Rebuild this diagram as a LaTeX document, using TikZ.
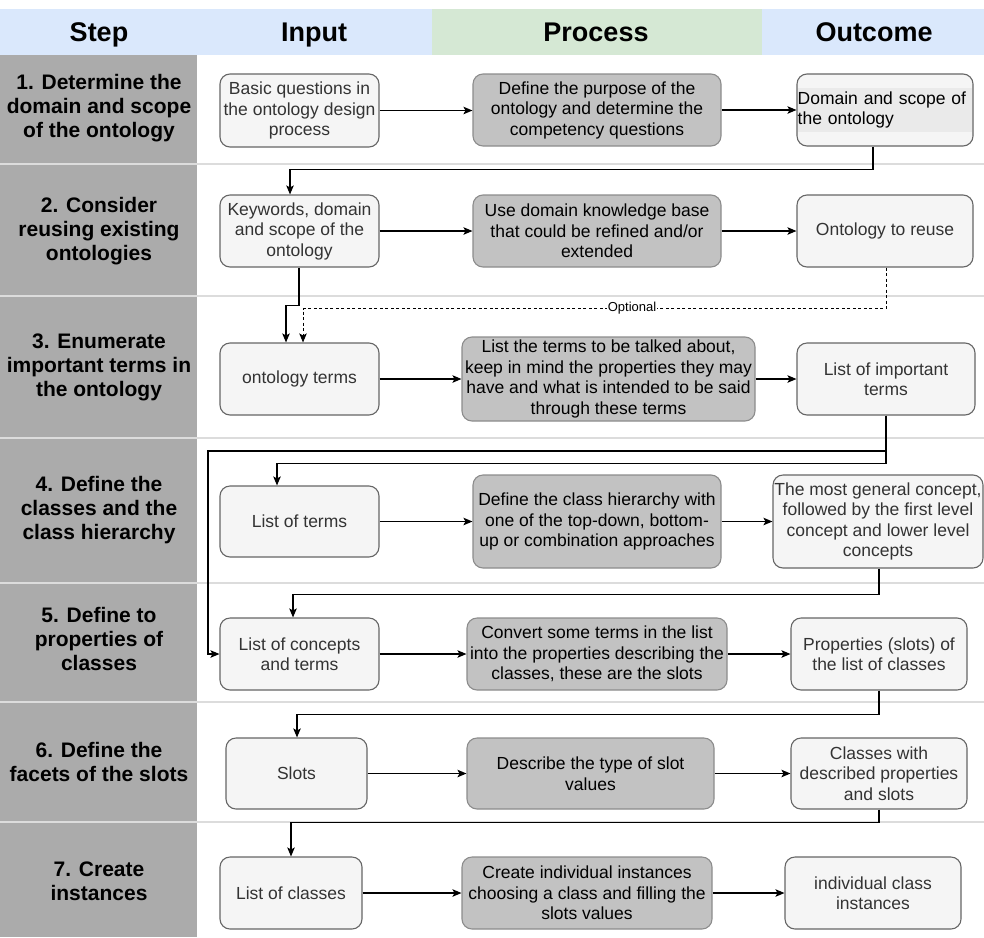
\documentclass[tikz,border=0pt]{standalone}
\usepackage{fontspec}
\setmainfont{Liberation Sans}
\usetikzlibrary{arrows.meta,calc}
\definecolor{hdrblue}{HTML}{DAE8FC}
\definecolor{hdrgreen}{HTML}{D5E8D4}
\definecolor{stepgray}{HTML}{ABABAB}
\definecolor{sepgray}{HTML}{DCDCDC}
\definecolor{boxfill}{HTML}{F5F5F5}
\definecolor{boxline}{HTML}{666666}
\definecolor{boxtext}{HTML}{333333}
\definecolor{procfill}{HTML}{C2C2C2}
\definecolor{procline}{HTML}{8C8C8C}
\definecolor{bandfill}{HTML}{EAEAEA}
\begin{document}
\begin{tikzpicture}[x=1pt,y=-1pt,
  boxfont/.style={font=\fontsize{17.5}{20.5}\selectfont},
  iobox/.style={draw=boxline, fill=boxfill, text=boxtext, rounded corners=10pt, line width=1.1pt, align=center, inner sep=0pt, boxfont},
  procbox/.style={draw=procline, fill=procfill, text=black, rounded corners=10pt, line width=1.1pt, align=center, inner sep=0pt, boxfont},
  hdrtext/.style={font=\bfseries\fontsize{27}{30}\selectfont, text=black, inner sep=0pt, anchor=base},
  steptext/.style={font=\bfseries\fontsize{21}{24}\selectfont, text=black, align=center, inner sep=0pt},
  conn/.style={draw=black, line width=1.2pt, -{Stealth[length=9pt,width=7.5pt,inset=2pt]}},
  optconn/.style={conn, dash pattern=on 3pt off 2.5pt, line width=1pt},
  sepline/.style={draw=sepgray, line width=1.5pt}
]
\useasboundingbox (0,0) rectangle (984,937);
\fill[white] (0,0) rectangle (984,937);
% header
\fill[hdrblue] (0,9) rectangle (432,55);
\fill[hdrgreen] (432,9) rectangle (762,55);
\fill[hdrblue] (762,9) rectangle (984,55);
\node[hdrtext] (hStep) at (99,41.5) {Step};
\node[hdrtext] (hIn) at (314,41.5) {Input};
\node[hdrtext] (hProc) at (596,41.5) {Process};
\node[hdrtext] (hOut) at (874,41.5) {Outcome};
% step column
\fill[stepgray] (0,55) rectangle (197,937);
\foreach \yy in {164,296,438,583,702,822} {\draw[sepline] (0,\yy) -- (984,\yy);}
\node[steptext] (s1) at (99,108.5) {1. Determine the\\domain and scope\\of the ontology};
\node[steptext] (s2) at (99,231) {2. Consider\\reusing existing\\ontologies};
\node[steptext] (s3) at (99,367) {3. Enumerate\\important terms in\\the ontology};
\node[steptext] (s4) at (99,510.5) {4. Define the\\classes and the\\class hierarchy};
\node[steptext] (s5) at (99,639) {5. Define to\\properties of\\classes};
\node[steptext] (s6) at (99,762) {6. Define the\\facets of the slots};
\node[steptext] (s7) at (99,881) {7. Create\\instances};
% row 1
\node[iobox, minimum width=159pt, minimum height=73pt] (I1) at (299.5,110.5) {Basic questions in\\the ontology design\\process};
\node[procbox, minimum width=248pt, minimum height=72pt] (P1) at (597,110) {Define the purpose of the\\ontology and determine the\\competency questions};
\node[iobox, minimum width=176pt, minimum height=72pt] (O1) at (885,110) {};
\node[fill=bandfill, text=black, inner sep=0pt, text width=174pt, minimum height=44pt, align=left, anchor=west, boxfont] (O1t) at ([xshift=1pt]O1.west) {Domain and scope of\\the ontology};
% row 2
\node[iobox, minimum width=159pt, minimum height=72pt] (I2) at (299.5,231) {Keywords, domain\\and scope of the\\ontology};
\node[procbox, minimum width=248pt, minimum height=72pt] (P2) at (597,231) {Use domain knowledge base\\that could be refined and/or\\extended};
\node[iobox, minimum width=176pt, minimum height=72pt] (O2) at (885,231) {Ontology to reuse};
% row 3
\node[iobox, minimum width=159pt, minimum height=72pt] (I3) at (299.5,379) {ontology terms};
\node[procbox, minimum width=293pt, minimum height=84pt] (P3) at (608.5,379) {List the terms to be talked about,\\keep in mind the properties they may\\have and what is intended to be said\\through these terms};
\node[iobox, minimum width=178pt, minimum height=72pt] (O3) at (886,379) {List of important\\terms};
% row 4
\node[iobox, minimum width=159pt, minimum height=71pt] (I4) at (299.5,521.5) {List of terms};
\node[procbox, minimum width=248pt, minimum height=93pt] (P4) at (597,521.5) {Define the class hierarchy with\\one of the top-down, bottom-\\up or combination approaches};
\node[iobox, minimum width=210pt, minimum height=93pt] (O4) at (878,521.5) {The most general concept,\\followed by the first level\\concept and lower level\\concepts};
% row 5
\node[iobox, minimum width=159pt, minimum height=72pt] (I5) at (299.5,654) {List of concepts\\and terms};
\node[procbox, minimum width=260pt, minimum height=72pt] (P5) at (597,654) {Convert some terms in the list\\into the properties describing the\\classes, these are the slots};
\node[iobox, minimum width=176pt, minimum height=72pt] (O5) at (879,654) {Properties (slots) of\\the list of classes};
% row 6
\node[iobox, minimum width=141pt, minimum height=71pt] (I6) at (296.5,773.5) {Slots};
\node[procbox, minimum width=247pt, minimum height=71pt] (P6) at (590.5,773.5) {Describe the type of slot\\values};
\node[iobox, minimum width=176pt, minimum height=71pt] (O6) at (879,773.5) {Classes with\\described properties\\and slots};
% row 7
\node[iobox, minimum width=142pt, minimum height=72pt] (I7) at (291,893) {List of classes};
\node[procbox, minimum width=250pt, minimum height=72pt] (P7) at (587,893) {Create individual instances\\choosing a class and filling the\\slots values};
\node[iobox, minimum width=176pt, minimum height=72pt] (O7) at (873,893) {individual class\\instances};
% horizontal arrows
\foreach \r in {1,...,7} {
  \draw[conn] (I\r.east) -- (I\r.east -| P\r.west);
  \draw[conn] (P\r.east) -- (P\r.east -| O\r.west);
}
% connectors between rows
\draw[conn] ([xshift=-12pt]O1.south) -- ++(0,23) -| ([xshift=-9.5pt]I2.north);
\draw[conn] ([xshift=-0.5pt]I2.south) -- ++(0,38) -| ([xshift=-13.5pt]I3.north);
\draw[optconn] ([xshift=1pt]O2.south) -- ++(0,41) -| ([xshift=3.5pt]I3.north);
\node[fill=white, inner sep=1pt, font=\fontsize{13}{15}\selectfont] (opt) at (632,308.5) {Optional};
\coordinate (c4) at (208,451);
\draw[conn] (O3.south) |- (c4) |- (I5.west);
\draw[conn] (O3.south) -- ++(0,48) -| ([xshift=-22.5pt]I4.north);
\draw[conn] ([xshift=1pt]O4.south) -- ++(0,26) -| ([xshift=-6.5pt]I5.north);
\draw[conn] (O5.south) -- ++(0,24) -| ([xshift=0.5pt]I6.north);
\draw[conn] (O6.south) -- ++(0,13) -| (I7.north);
\end{tikzpicture}
\end{document}
